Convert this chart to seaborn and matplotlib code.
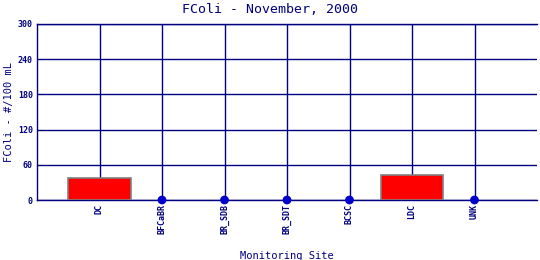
import matplotlib
matplotlib.use("Agg")
import matplotlib.pyplot as plt
import seaborn as sns
import pandas as pd

sites = ["DC", "BFCaBR", "BR_SDB", "BR_SDT", "BCSC", "LDC", "UNK"]
fcoli = [37, 0, 0, 0, 0, 43, 0]
yticks = [0, 60, 120, 180, 240, 300]

navy = "#000080"
df = pd.DataFrame({"site": sites, "fcoli": fcoli})
zeros = df[df["fcoli"] == 0]

sns.set_style("white")
plt.rcParams["font.family"] = ["DejaVu Sans Mono"]

fig = plt.figure(figsize=(5.4, 2.6), dpi=100)
ax = fig.add_axes([37/540, 60/260, 500/540, 176/260])

sns.barplot(data=df[df["fcoli"] > 0].reindex(df.index), x="site", y="fcoli", order=sites,
            color="#ff0000", saturation=1, width=1.0, edgecolor="#808080",
            linewidth=1.2, ax=ax, zorder=3)
sns.scatterplot(data=zeros, x="site", y="fcoli", color="#0000cc", s=40,
                edgecolor="none", ax=ax, zorder=5, clip_on=False)

ax.set_xlim(-1, 7)
ax.set_ylim(0, 300)
ax.set_yticks(yticks)
ax.set_yticklabels([str(v) for v in yticks], fontsize=6, fontweight="bold", color=navy)
ax.set_xticks(range(len(sites)))
ax.set_xticklabels(sites, rotation=90, fontsize=6, fontweight="bold", color=navy)
ax.tick_params(axis="both", length=0, pad=3)
ax.set_axisbelow(True)
ax.xaxis.grid(True, color=navy, linewidth=1.0, zorder=0)
ax.yaxis.grid(True, color=navy, linewidth=1.0, zorder=0)

for s in ["left", "bottom", "top"]:
    ax.spines[s].set_color(navy)
    ax.spines[s].set_linewidth(1.0)
ax.spines["right"].set_visible(False)

ax.set_xlabel("Monitoring Site", fontsize=7.5, color=navy, labelpad=12)
ax.set_ylabel("FColi - #/100 mL", fontsize=7.5, color=navy, va="center", ha="center")
ax.yaxis.set_label_coords((9 - 37) / 500, 0.5)
fig.suptitle("FColi - November, 2000", fontsize=9.5, color=navy, y=0.99)

fig.savefig("out.png", dpi=100)
